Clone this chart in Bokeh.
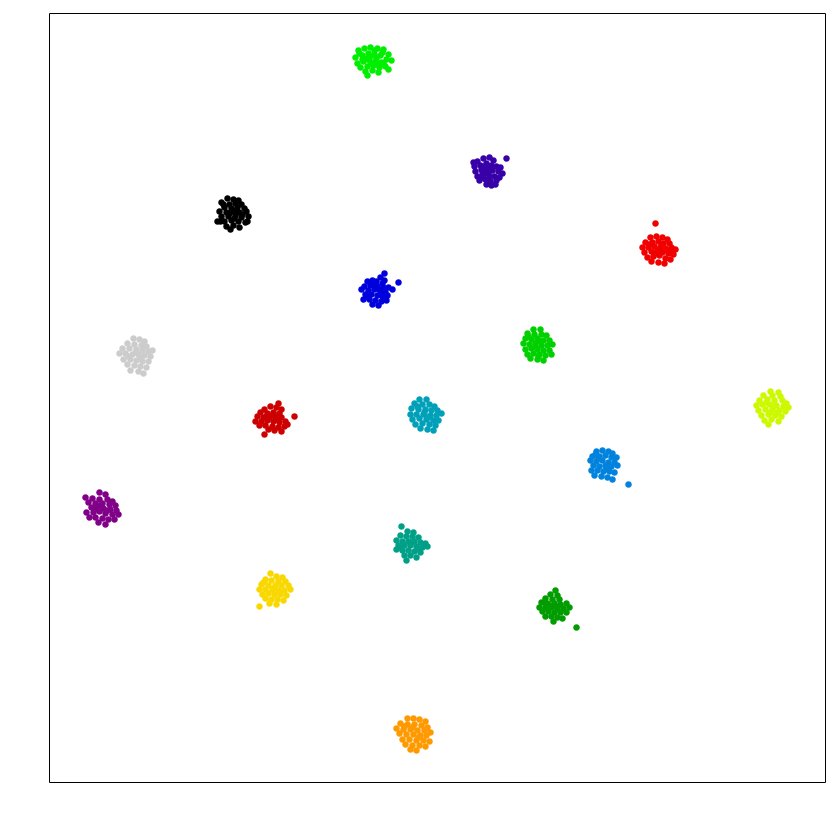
from bokeh.plotting import figure
from bokeh.models import Range1d
from bokeh.embed import file_html
from bokeh.resources import INLINE

# Embedding space (arbitrary units); each cluster: centre + point offsets
cluster_names = ["lime", "indigo", "black", "red", "blue", "gray", "green", "yellowgreen",
                 "darkred", "teal", "azure", "purple", "tealgreen", "yellow", "darkgreen", "orange"]
cluster_colors = ["#00ee00", "#3800a8", "#000000", "#f00000", "#0000dd", "#cccccc", "#00d000", "#ccf800",
                  "#cc0000", "#00a0b8", "#0082dd", "#800088", "#00a088", "#f8d800", "#009c00", "#ff9900"]
center_x = [323, 438, 184, 609, 327, 87, 488, 723, 223, 376, 555, 52, 361, 225, 504, 364]
center_y = [722, 612, 569, 533, 492, 427, 437, 375, 364, 368, 317, 274, 238, 192, 176, 49]

off_lime = [(-14, 10), (-8, 12), (-2, 13), (5, 12), (11, 11), (16, 6), (-17, 3), (-10, 5), (-4, 7), (2, 6),
            (8, 5), (14, 1), (19, 0), (-15, -3), (-9, -1), (-3, 0), (3, -1), (9, -2), (-12, -7), (-5, -6),
            (1, -5), (7, -7), (13, -6), (-7, -11), (0, -10), (6, -12), (-5, -15), (-10, 1), (4, 2), (-1, -3),
            (10, 8), (-6, 2), (2, 10), (-13, 7), (5, -4), (-2, 4), (11, -3), (16, -9)]
off_indigo = [(-10, 9), (-4, 12), (2, 13), (6, 10), (-13, 4), (-7, 5), (-1, 7), (4, 5), (9, 4), (19, 12),
              (-12, -1), (-6, 1), (0, 2), (5, 0), (11, -1), (15, -3), (-10, -6), (-4, -4), (1, -3), (7, -6),
              (-8, -10), (-2, -9), (3, -11), (9, -10), (12, -7), (-1, -14), (4, -15), (-5, -2), (2, -6), (-3, 4),
              (8, -14), (-14, 8), (13, 3), (0, -1), (-6, -7)]
off_black = [(-6, 15), (0, 14), (5, 13), (-12, 11), (-4, 9), (2, 10), (8, 9), (-9, 6), (-2, 5), (4, 6),
             (11, 5), (-14, 2), (-7, 1), (0, 2), (6, 1), (13, 2), (-12, -3), (-5, -3), (2, -2), (8, -4),
             (15, -3), (-16, -8), (-9, -8), (-2, -7), (5, -8), (12, -9), (-7, -13), (0, -12), (6, -14), (-3, -16),
             (3, 3), (-4, 0), (9, -1), (-10, 9), (1, -5), (-13, -8), (14, -8)]
off_red = [(-3, 26), (-8, 12), (-2, 13), (4, 12), (9, 10), (-13, 7), (-6, 7), (0, 8), (5, 6), (11, 6),
           (-16, 2), (-10, 2), (-4, 3), (2, 2), (7, 1), (13, 2), (17, 0), (-14, -3), (-7, -2), (-1, -1),
           (4, -3), (10, -4), (15, -5), (-11, -8), (-5, -7), (1, -6), (7, -9), (12, -10), (-7, -12), (0, -13),
           (6, -14), (3, 4), (-3, -4), (9, -1), (-9, 5), (14, -2)]
off_blue = [(8, 17), (4, 13), (-4, 10), (-9, 9), (0, 9), (6, 7), (22, 8), (-12, 4), (-6, 5), (1, 4),
            (7, 3), (12, 3), (-15, 1), (-8, 0), (-2, 1), (4, -1), (9, -2), (16, 1), (-11, -4), (-5, -4),
            (1, -5), (6, -6), (11, -5), (-13, -9), (-7, -9), (-1, -10), (5, -11), (10, -10), (-4, -14), (2, -15),
            (-2, 6), (3, 1), (-9, -6), (8, 10)]
off_gray = [(-3, 17), (3, 16), (8, 14), (-9, 12), (-2, 11), (5, 10), (10, 9), (-14, 7), (-7, 7), (0, 6),
            (6, 5), (12, 4), (-17, 2), (-11, 2), (-4, 1), (2, 1), (8, 0), (14, -1), (-13, -4), (-6, -4),
            (0, -5), (6, -6), (12, -6), (-9, -9), (-2, -10), (4, -11), (10, -12), (-6, -15), (2, -16), (7, -18),
            (-1, 3), (4, -2), (-8, -1), (16, 5)]
off_green = [(-4, 16), (3, 16), (-10, 12), (-3, 11), (4, 11), (9, 10), (-12, 7), (-6, 6), (0, 7), (6, 5),
             (12, 5), (-14, 2), (-8, 1), (-2, 2), (4, 0), (10, 0), (15, 1), (-12, -4), (-6, -3), (0, -4),
             (6, -5), (12, -5), (-10, -9), (-4, -8), (2, -9), (8, -10), (14, -9), (-7, -13), (0, -14), (6, -15),
             (-2, -1), (3, 4), (-9, 9), (1, -11)]
off_yellowgreen = [(-2, 16), (6, 15), (-9, 12), (0, 12), (8, 11), (-13, 7), (-5, 8), (2, 7), (10, 7), (14, 4),
                   (-16, 2), (-10, 3), (-3, 3), (4, 2), (11, 1), (16, 0), (-14, -3), (-7, -2), (0, -2), (7, -3),
                   (13, -4), (-11, -8), (-4, -7), (3, -8), (9, -9), (-8, -13), (-1, -12), (6, -14), (-4, -17), (1, 1),
                   (-6, 5), (5, -5), (-2, -5)]
off_darkred = [(6, 15), (-2, 12), (4, 11), (9, 9), (-8, 9), (-12, 6), (-5, 5), (1, 6), (7, 5), (-15, 2),
               (-9, 1), (-3, 1), (3, 2), (9, 1), (22, 2), (-17, -3), (-11, -3), (-5, -2), (1, -3), (7, -4),
               (13, -3), (-13, -7), (-7, -7), (0, -8), (6, -9), (12, -8), (-8, -16), (2, -12), (9, -13), (-4, -11),
               (-1, 3), (4, -1), (-6, 2), (15, -6)]
off_teal = [(-6, 15), (1, 15), (-11, 11), (-3, 10), (4, 10), (9, 8), (-14, 6), (-7, 5), (0, 5), (6, 4),
            (12, 4), (-15, 0), (-9, 0), (-2, 0), (5, -1), (11, -1), (16, 1), (-13, -5), (-6, -4), (1, -5),
            (8, -6), (13, -6), (-10, -10), (-3, -9), (4, -10), (10, -11), (-5, -14), (2, -15), (8, -16), (-1, 2),
            (3, -3), (-8, 8)]
off_azure = [(-8, 14), (-2, 15), (4, 14), (8, 12), (-12, 9), (-5, 9), (1, 10), (7, 8), (12, 8), (-14, 5),
             (-8, 4), (-2, 5), (4, 3), (10, 3), (-11, 0), (-5, -1), (1, 0), (7, -1), (13, 0), (-13, -5),
             (-7, -5), (-1, -6), (5, -6), (10, -7), (-10, -10), (-3, -11), (3, -12), (8, -14), (24, -19), (-6, 7),
             (2, -3), (-9, 11)]
off_purple = [(-2, 16), (4, 14), (-16, 11), (-9, 10), (-2, 9), (6, 9), (11, 7), (-13, 6), (-6, 5), (1, 5),
              (8, 4), (14, 3), (-10, 1), (-4, 1), (2, 0), (9, -1), (15, -2), (-15, -4), (-8, -4), (-2, -3),
              (4, -5), (11, -6), (17, -6), (-12, -9), (-6, -9), (1, -10), (7, -11), (13, -11), (-3, -14), (4, -16),
              (-1, 3), (6, -2), (-7, -1)]
off_tealgreen = [(-9, 18), (-3, 13), (3, 12), (-10, 9), (-4, 8), (2, 8), (8, 7), (-14, 4), (-8, 3), (-2, 3),
                 (4, 3), (10, 2), (15, 1), (-12, -1), (-6, -1), (0, -1), (6, -2), (12, -3), (17, -2), (-14, -5),
                 (-8, -6), (-2, -6), (4, -7), (10, -8), (-6, -11), (0, -11), (6, -13), (-4, -16), (1, 2), (-10, -3),
                 (8, -4)]
off_yellow = [(-4, 17), (2, 14), (8, 13), (-9, 11), (-3, 10), (4, 9), (11, 9), (-13, 6), (-6, 5), (1, 5),
              (7, 5), (14, 5), (-15, 1), (-9, 1), (-2, 1), (4, 0), (10, 0), (16, 1), (-12, -4), (-6, -3),
              (0, -4), (6, -4), (12, -5), (-9, -8), (-3, -9), (3, -9), (9, -10), (-15, -16), (-5, -13), (2, -14),
              (-1, 2), (5, -2), (-11, 8)]
off_darkgreen = [(2, 16), (-3, 12), (4, 11), (-8, 8), (-1, 7), (6, 7), (-12, 4), (-6, 3), (1, 3), (7, 2),
                 (13, 3), (-14, -1), (-8, -1), (-2, -1), (4, -2), (10, -2), (16, -1), (-11, -5), (-5, -5), (1, -6),
                 (7, -6), (13, -6), (-8, -10), (-2, -10), (4, -11), (9, -12), (0, -15), (23, -21), (-4, 1),
                 (3, 0), (-9, 4)]
off_orange = [(-6, 15), (0, 15), (6, 14), (12, 12), (-13, 10), (-6, 9), (1, 9), (8, 8), (14, 6), (-17, 5),
              (-10, 4), (-3, 4), (4, 3), (11, 3), (17, 1), (-14, 0), (-7, -1), (0, -1), (7, -2), (13, -2),
              (-11, -6), (-4, -6), (3, -7), (10, -7), (16, -8), (-8, -11), (-1, -12), (6, -12), (12, -13), (-3, -16),
              (3, -17), (-1, 6), (5, -4), (-9, 7)]

offsets = [off_lime, off_indigo, off_black, off_red, off_blue, off_gray, off_green, off_yellowgreen,
           off_darkred, off_teal, off_azure, off_purple, off_tealgreen, off_yellow, off_darkgreen, off_orange]

xs, ys, cs = [], [], []
for cx, cy, col, offs in zip(center_x, center_y, cluster_colors, offsets):
    for dx, dy in offs:
        xs.append(cx + dx)
        ys.append(cy + dy)
        cs.append(col)

p = figure(width=837, height=817, output_backend="svg", toolbar_location=None,
           x_range=Range1d(0, 776), y_range=Range1d(0, 769),
           min_border_left=49, min_border_right=12, min_border_top=13, min_border_bottom=35)
p.xaxis.visible = False
p.yaxis.visible = False
p.xgrid.grid_line_color = None
p.ygrid.grid_line_color = None
p.outline_line_color = "black"
p.outline_line_width = 1
p.background_fill_color = "white"
p.border_fill_color = "white"

p.scatter(xs, ys, size=6, fill_color=cs, line_color=cs, line_width=0.5)

open("out.html", "w").write(file_html(p, INLINE))
